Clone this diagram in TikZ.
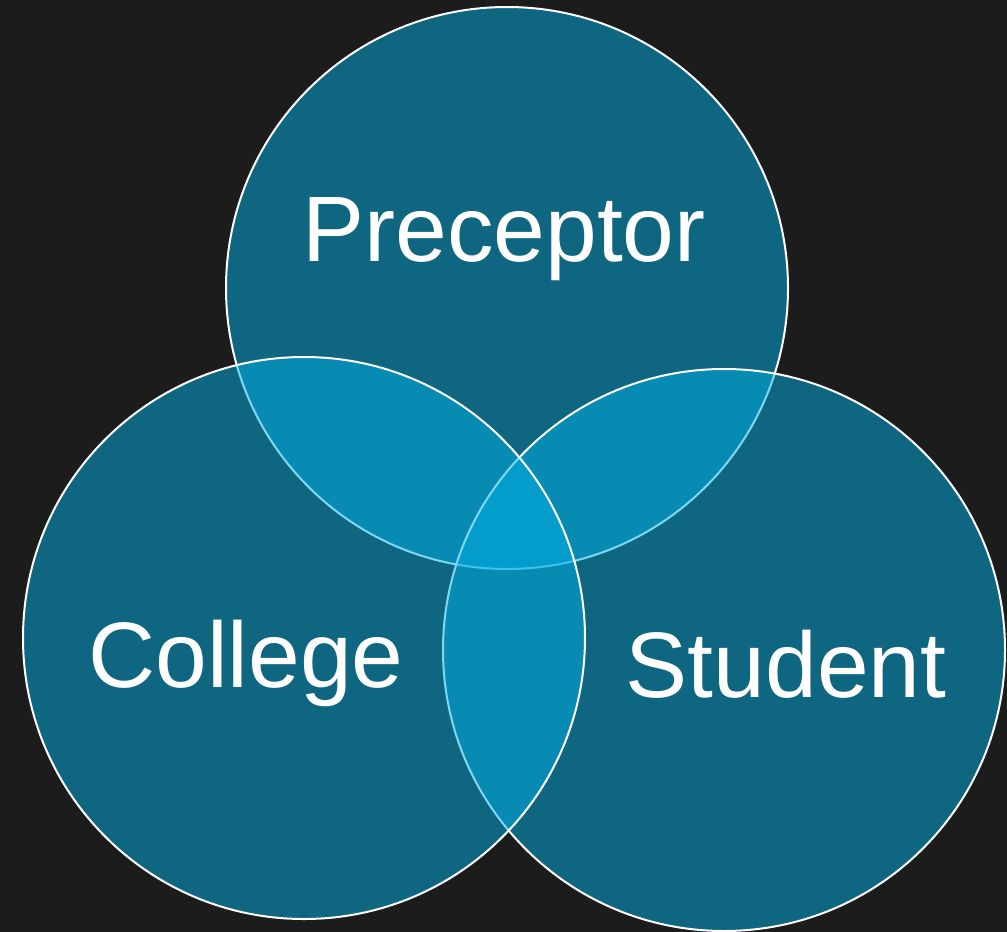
\documentclass[tikz,border=0pt]{standalone}
\usepackage{fontspec}
\setmainfont{Liberation Sans}
\definecolor{bg}{HTML}{1C1C1C}
\definecolor{circ}{HTML}{02B0E4}
\begin{document}
\begin{tikzpicture}[x=1pt,y=-1pt,
  venn/.style={circle,minimum size=562pt,inner sep=0pt,draw=white,line width=2pt,fill=circ,fill opacity=0.5,draw opacity=1},
  lbl/.style={text=white,anchor=base,font=\fontsize{93}{93}\selectfont,inner sep=0pt}]
\fill[bg] (0,0) rectangle (1007,932);
\useasboundingbox (0,0) rectangle (1007,932);
\node[venn] (top) at (507,288) {};
\node[venn] (right) at (724,650) {};
\node[venn] (left) at (304,638) {};
\node[lbl] (tp) at (504,261) {Preceptor};
\node[lbl] (lt) at (246,687) {College};
\node[lbl] (rt) at (786,697) {Student};
\end{tikzpicture}
\end{document}
